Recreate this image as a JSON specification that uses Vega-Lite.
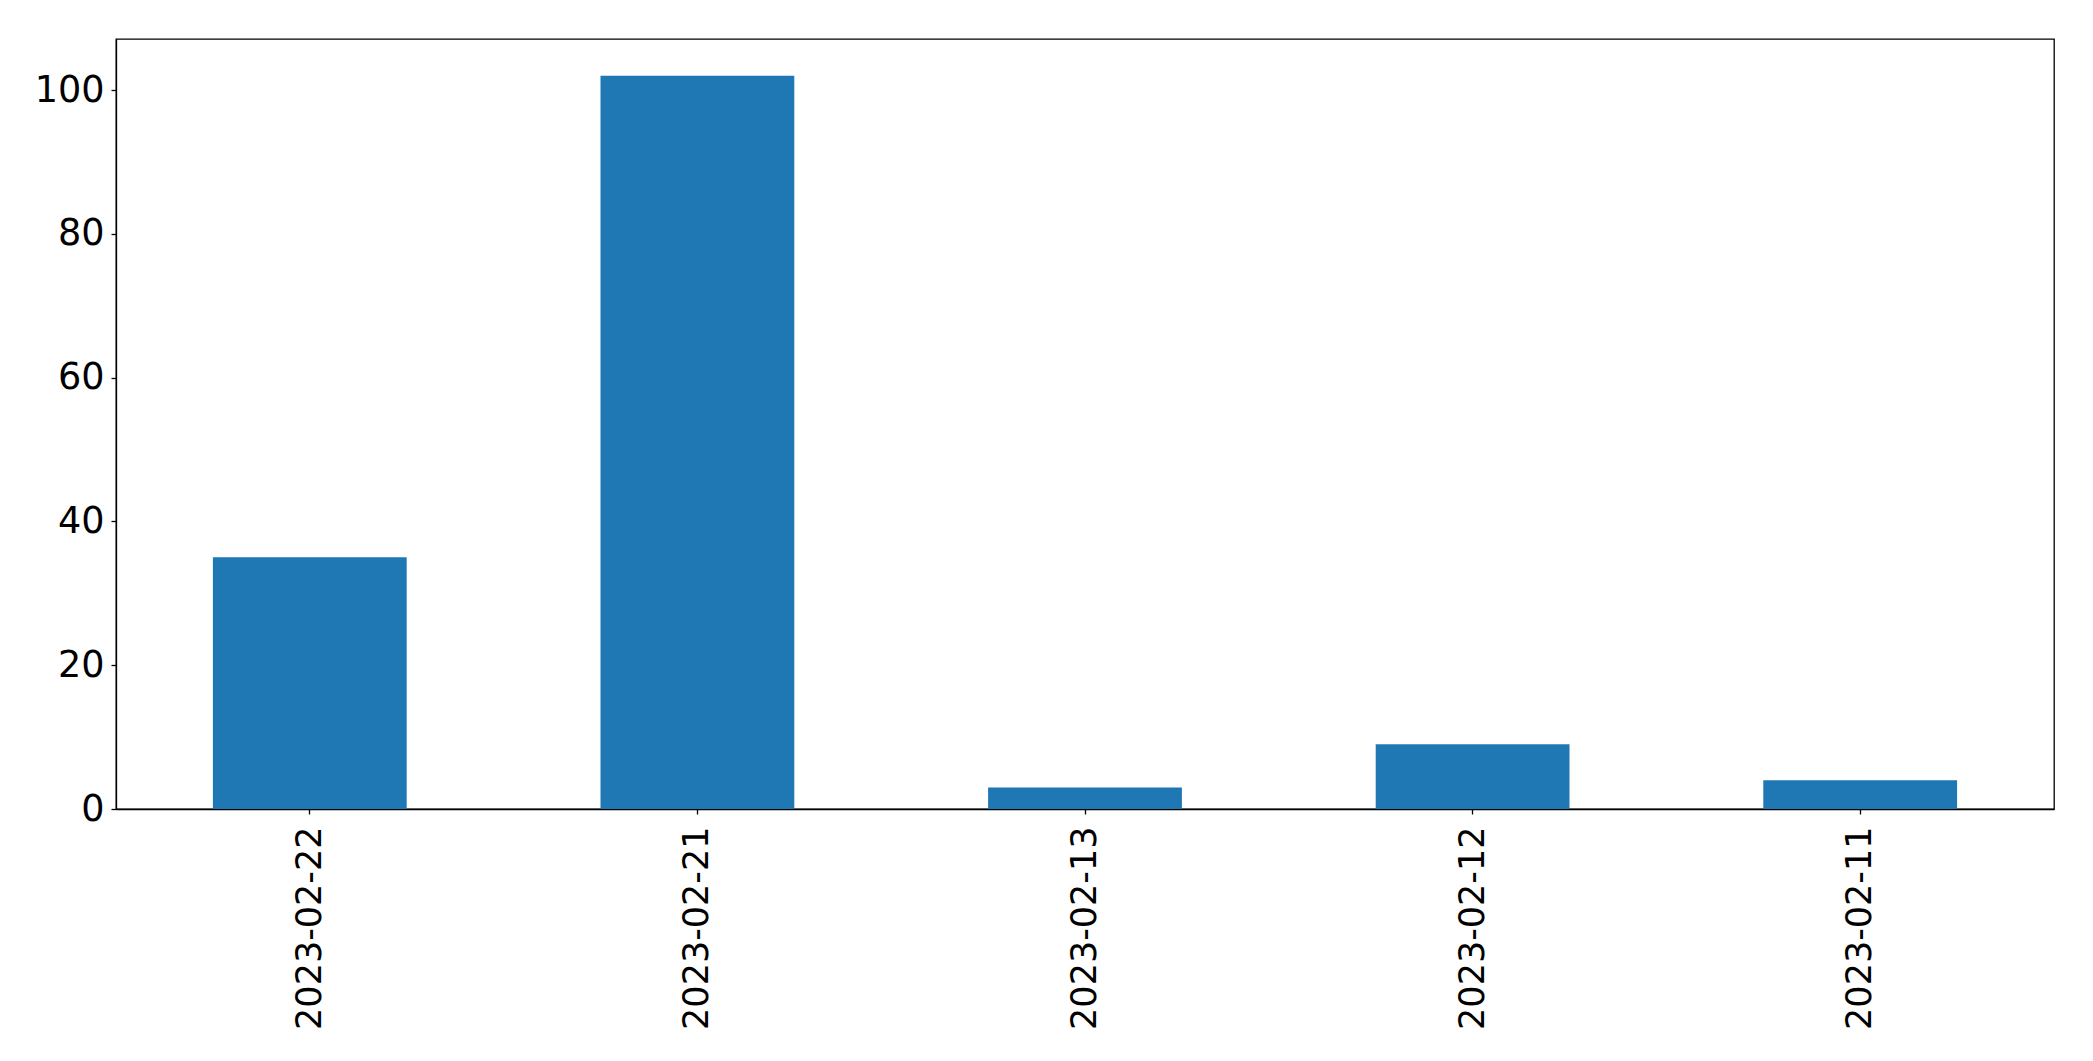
{
  "$schema": "https://vega.github.io/schema/vega-lite/v6.json",
  "autosize": {"type": "none"},
  "padding": {"left": 116, "top": 39, "right": 39, "bottom": 252},
  "width": 1938,
  "height": 770,
  "background": "white",
  "config": {
    "view": {"stroke": "black", "strokeWidth": 1.3},
    "axis": {
      "labelFont": "DejaVu Sans",
      "labelFontSize": 36.6,
      "labelColor": "black",
      "labelLimit": 0,
      "domainColor": "black",
      "domainWidth": 1.3,
      "tickColor": "black",
      "tickWidth": 1.3,
      "tickSize": 5,
      "grid": false,
      "title": null
    }
  },
  "data": {
    "values": [
      {"date": "2023-02-22", "count": 35},
      {"date": "2023-02-21", "count": 102},
      {"date": "2023-02-13", "count": 3},
      {"date": "2023-02-12", "count": 9},
      {"date": "2023-02-11", "count": 4}
    ]
  },
  "mark": {"type": "bar", "color": "#1f77b4"},
  "encoding": {
    "x": {
      "field": "date",
      "type": "nominal",
      "sort": null,
      "scale": {"paddingInner": 0.5, "paddingOuter": 0.25},
      "axis": {"labelAngle": -90, "labelPadding": 12, "labelFontSize": 35}
    },
    "y": {
      "field": "count",
      "type": "quantitative",
      "scale": {"domain": [0, 107.1], "nice": false, "zero": true},
      "axis": {"values": [0, 20, 40, 60, 80, 100], "labelPadding": 7}
    }
  }
}
